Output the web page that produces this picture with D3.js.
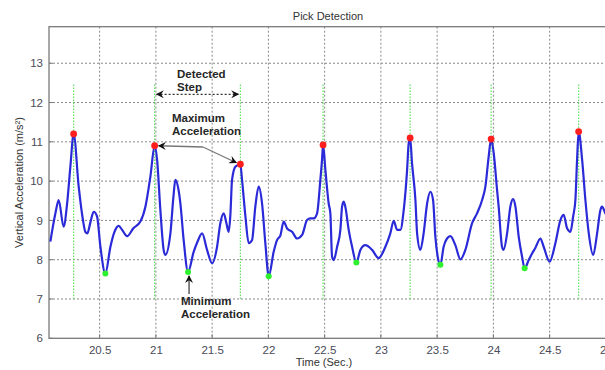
<!DOCTYPE html>
<html>
<head>
<meta charset="utf-8">
<script src="https://cdn.jsdelivr.net/npm/d3@7"></script>
<style>
  body { margin: 0; background: #fff; }
  svg { display: block; font-family: "Liberation Sans", Arial, sans-serif; }
</style>
</head>
<body>
<div id="chart"></div>
<script>
// accelerometer trace (time in s, vertical acceleration in m/s^2)
const time = [
  20.062, 20.107, 20.136, 20.180, 20.211, 20.240, 20.269, 20.314, 20.347, 20.373,
  20.391, 20.418, 20.447, 20.477, 20.507, 20.551, 20.596, 20.631, 20.669, 20.702,
  20.744, 20.800, 20.862, 20.907, 20.951, 20.989, 21.011, 21.040, 21.069, 21.084,
  21.129, 21.156, 21.173, 21.200, 21.218, 21.247, 21.286, 21.336, 21.369, 21.411,
  21.455, 21.500, 21.544, 21.573, 21.603, 21.627, 21.647, 21.662, 21.677, 21.707,
  21.751, 21.766, 21.796, 21.825, 21.855, 21.884, 21.914, 21.944, 21.973, 22.003,
  22.047, 22.077, 22.107, 22.136, 22.166, 22.211, 22.255, 22.300, 22.344, 22.373,
  22.403, 22.433, 22.462, 22.477, 22.486, 22.507, 22.536, 22.551, 22.566, 22.581,
  22.611, 22.640, 22.655, 22.669, 22.684, 22.714, 22.744, 22.782, 22.818, 22.862,
  22.922, 22.980, 23.040, 23.084, 23.114, 23.144, 23.173, 23.203, 23.233, 23.247,
  23.260, 23.277, 23.307, 23.322, 23.351, 23.380, 23.411, 23.440, 23.464, 23.484,
  23.505, 23.529, 23.558, 23.588, 23.618, 23.662, 23.707, 23.751, 23.811, 23.855,
  23.900, 23.929, 23.958, 23.980, 24.003, 24.033, 24.047, 24.077, 24.091, 24.122,
  24.151, 24.175, 24.196, 24.225, 24.255, 24.278, 24.314, 24.344, 24.373, 24.418,
  24.447, 24.500, 24.551, 24.596, 24.625, 24.655, 24.685, 24.709, 24.729, 24.744,
  24.758, 24.789, 24.818, 24.848, 24.887, 24.922, 24.951, 24.966, 24.996, 25.049
];
const accel = [
  8.46, 9.18, 9.52, 8.84, 9.43, 10.37, 11.2, 9.86, 9.1, 8.71,
  8.67, 8.95, 9.22, 9.1, 8.33, 7.65, 8.33, 8.7, 8.86, 8.75,
  8.6, 8.8, 8.97, 9.35, 10.11, 10.9, 10.54, 9.26, 8.25, 8.12,
  8.67, 9.6, 10.03, 9.8, 9.43, 8.5, 7.69, 8.2, 8.45, 8.67,
  8.25, 7.91, 8.33, 8.93, 9.18, 8.93, 8.71, 9.13, 10.03, 10.37,
  10.43, 10.03, 9.1, 8.42, 8.5, 9.35, 9.86, 9.43, 8.42, 7.58,
  8.2, 8.5, 8.62, 8.97, 8.8, 8.71, 8.54, 8.63, 9.01, 9.05,
  9.05, 9.18, 10.03, 10.54, 10.92, 10.28, 9.43, 9.18, 8.08, 7.99,
  8.33, 8.76, 9.35, 9.48, 9.35, 8.76, 8.33, 7.93, 8.25, 8.37,
  8.25, 8.04, 8.33, 8.67, 8.99, 8.76, 8.76, 9.26, 10.28, 10.96,
  11.1, 10.45, 9.52, 8.67, 8.25, 8.67, 9.43, 9.73, 9.52, 8.59,
  8.08, 7.87, 8.33, 8.54, 8.6, 8.37, 8.01, 8.25, 8.93, 9.18,
  9.52, 9.86, 10.62, 11.07, 10.71, 9.77, 9.35, 8.33, 8.25, 8.67,
  9.35, 9.54, 9.35, 8.59, 8.08, 7.78, 7.99, 8.16, 8.3, 8.54,
  8.33, 7.95, 8.42, 9.01, 9.14, 8.8, 8.71, 9.1, 9.52, 10.54,
  11.26, 10.54, 9.52, 8.67, 8.12, 8.67, 9.26, 9.35, 9.18, 9.0
];

// detected peaks (maximum acceleration) and minima
const peakTime = [20.269, 20.989, 21.751, 22.486, 23.260, 23.980, 24.758];
const peakAccel = [11.2, 10.9, 10.43, 10.92, 11.1, 11.07, 11.26];
const minTime = [20.551, 21.286, 22.003, 22.782, 23.529, 24.278];
const minAccel = [7.65, 7.69, 7.58, 7.93, 7.87, 7.78];

const xTicks = [20.5, 21, 21.5, 22, 22.5, 23, 23.5, 24, 24.5, 25];
const yTicks = [6, 7, 8, 9, 10, 11, 12, 13];

const width = 605, height = 370;
const plotLeft = 49, plotTop = 26.7, plotBottom = 338.3, plotRight = 611.5;

const svg = d3.select('#chart').append('svg')
  .attr('width', width)
  .attr('height', height);

const x = d3.scaleLinear().domain([20.05, 25.05]).range([plotLeft, plotRight]);
const y = d3.scaleLinear().domain([6, 13.93]).range([plotBottom, plotTop]);

// grid
const grid = svg.append('g').attr('stroke', '#8a8a8a').attr('stroke-width', 1)
  .attr('stroke-dasharray', '2,2');
grid.selectAll('.gx').data(xTicks).enter().append('line')
  .attr('x1', d => x(d)).attr('x2', d => x(d))
  .attr('y1', plotTop).attr('y2', plotBottom);
grid.selectAll('.gy').data(yTicks.slice(1)).enter().append('line')
  .attr('x1', plotLeft).attr('x2', plotRight)
  .attr('y1', d => y(d)).attr('y2', d => y(d));

// axes
const xAxis = d3.axisBottom(x).tickValues(xTicks).tickSize(0).tickPadding(8)
  .tickFormat(d3.format('~g'));
const yAxis = d3.axisLeft(y).tickValues(yTicks).tickSize(0).tickPadding(6)
  .tickFormat(d3.format('d'));

const gx = svg.append('g').attr('transform', `translate(0,${plotBottom})`).call(xAxis);
const gy = svg.append('g').attr('transform', `translate(${plotLeft},0)`).call(yAxis);
[gx, gy].forEach(g => {
  g.select('.domain').remove();
  g.selectAll('text')
    .attr('fill', '#4a4a58')
    .attr('font-size', '11.5px')
    .style('font-family', '"Liberation Sans", Arial, sans-serif');
});

// small tick marks inside the box
svg.append('g').attr('stroke', '#777').selectAll('line').data(yTicks).enter().append('line')
  .attr('x1', plotLeft).attr('x2', plotLeft + 4)
  .attr('y1', d => y(d)).attr('y2', d => y(d));
svg.append('g').attr('stroke', '#777').selectAll('line').data(xTicks).enter().append('line')
  .attr('x1', d => x(d)).attr('x2', d => x(d))
  .attr('y1', plotBottom).attr('y2', plotBottom - 4);

// frame
svg.append('rect')
  .attr('x', plotLeft).attr('y', plotTop)
  .attr('width', plotRight - plotLeft).attr('height', plotBottom - plotTop)
  .attr('fill', 'none').attr('stroke', '#7a7a7a').attr('stroke-width', 1.3);

// detected step lines
svg.append('g').selectAll('line').data(peakTime).enter().append('line')
  .attr('x1', d => x(d)).attr('x2', d => x(d))
  .attr('y1', y(7)).attr('y2', y(12.5))
  .attr('stroke', '#5ee45e').attr('stroke-width', 1.2)
  .attr('stroke-dasharray', '1.5,1.5');

// signal
const line = d3.line()
  .x((d, i) => x(time[i]))
  .y(d => y(d))
  .curve(d3.curveMonotoneX);

svg.append('path')
  .datum(accel)
  .attr('d', line)
  .attr('fill', 'none')
  .attr('stroke', '#2a2ad8')
  .attr('stroke-width', 2.2)
  .attr('stroke-linejoin', 'round');

svg.append('g').selectAll('circle').data(peakTime).enter().append('circle')
  .attr('cx', d => x(d)).attr('cy', (d, i) => y(peakAccel[i]))
  .attr('r', 3.4).attr('fill', '#ff1e1e');

svg.append('g').selectAll('circle').data(minTime).enter().append('circle')
  .attr('cx', d => x(d)).attr('cy', (d, i) => y(minAccel[i]))
  .attr('r', 3).attr('fill', '#2ef02e');

// arrow markers
const defs = svg.append('defs');
defs.append('marker')
  .attr('id', 'head')
  .attr('viewBox', '0 0 10 10')
  .attr('refX', 9).attr('refY', 5)
  .attr('markerWidth', 11).attr('markerHeight', 8)
  .attr('markerUnits', 'userSpaceOnUse')
  .attr('orient', 'auto-start-reverse')
  .append('path')
  .attr('d', 'M0,0 L10,5 L0,10 L3.5,5 z')
  .attr('fill', '#111');

// annotations
const note = svg.append('g')
  .attr('font-size', '11.5px')
  .attr('font-weight', 'bold')
  .attr('fill', '#262626');

note.append('text').attr('x', 177).attr('y', 78).text('Detected');
note.append('text').attr('x', 177).attr('y', 91).text('Step');

const stepY = y(12.21);
svg.append('line')
  .attr('x1', x(peakTime[1]) + 2).attr('x2', x(peakTime[2]) - 2)
  .attr('y1', stepY).attr('y2', stepY)
  .attr('stroke', '#333').attr('stroke-width', 1.2)
  .attr('stroke-dasharray', '2,2')
  .attr('marker-start', 'url(#head)')
  .attr('marker-end', 'url(#head)');

note.append('text').attr('x', 172).attr('y', 122).text('Maximum');
note.append('text').attr('x', 172).attr('y', 135).text('Acceleration');

const ox = 203, oy = 147;
svg.append('line')
  .attr('x1', ox).attr('y1', oy)
  .attr('x2', x(peakTime[1]) + 4).attr('y2', y(peakAccel[1]))
  .attr('stroke', '#777').attr('stroke-width', 1.3)
  .attr('marker-end', 'url(#head)');
svg.append('line')
  .attr('x1', ox).attr('y1', oy)
  .attr('x2', x(peakTime[2]) - 4).attr('y2', y(peakAccel[2]) - 1.5)
  .attr('stroke', '#777').attr('stroke-width', 1.3)
  .attr('marker-end', 'url(#head)');

note.append('text').attr('x', 181).attr('y', 305).text('Minimum');
note.append('text').attr('x', 181).attr('y', 318).text('Acceleration');

svg.append('line')
  .attr('x1', x(minTime[1]) + 1).attr('x2', x(minTime[1]) + 1)
  .attr('y1', 294).attr('y2', y(minAccel[1]) + 4)
  .attr('stroke', '#333').attr('stroke-width', 1.2)
  .attr('marker-end', 'url(#head)');

// titles
svg.append('text')
  .attr('x', 328).attr('y', 20)
  .attr('text-anchor', 'middle')
  .attr('font-size', '11px')
  .attr('fill', '#333')
  .text('Pick Detection');

svg.append('text')
  .attr('x', 324).attr('y', 366)
  .attr('text-anchor', 'middle')
  .attr('font-size', '11px')
  .attr('fill', '#333')
  .text('Time (Sec.)');

svg.append('text')
  .attr('transform', `translate(23,${(plotTop + plotBottom) / 2}) rotate(-90)`)
  .attr('text-anchor', 'middle')
  .attr('font-size', '11px')
  .attr('fill', '#333')
  .text('Vertical Acceleration (m/s²)');
</script>
</body>
</html>
